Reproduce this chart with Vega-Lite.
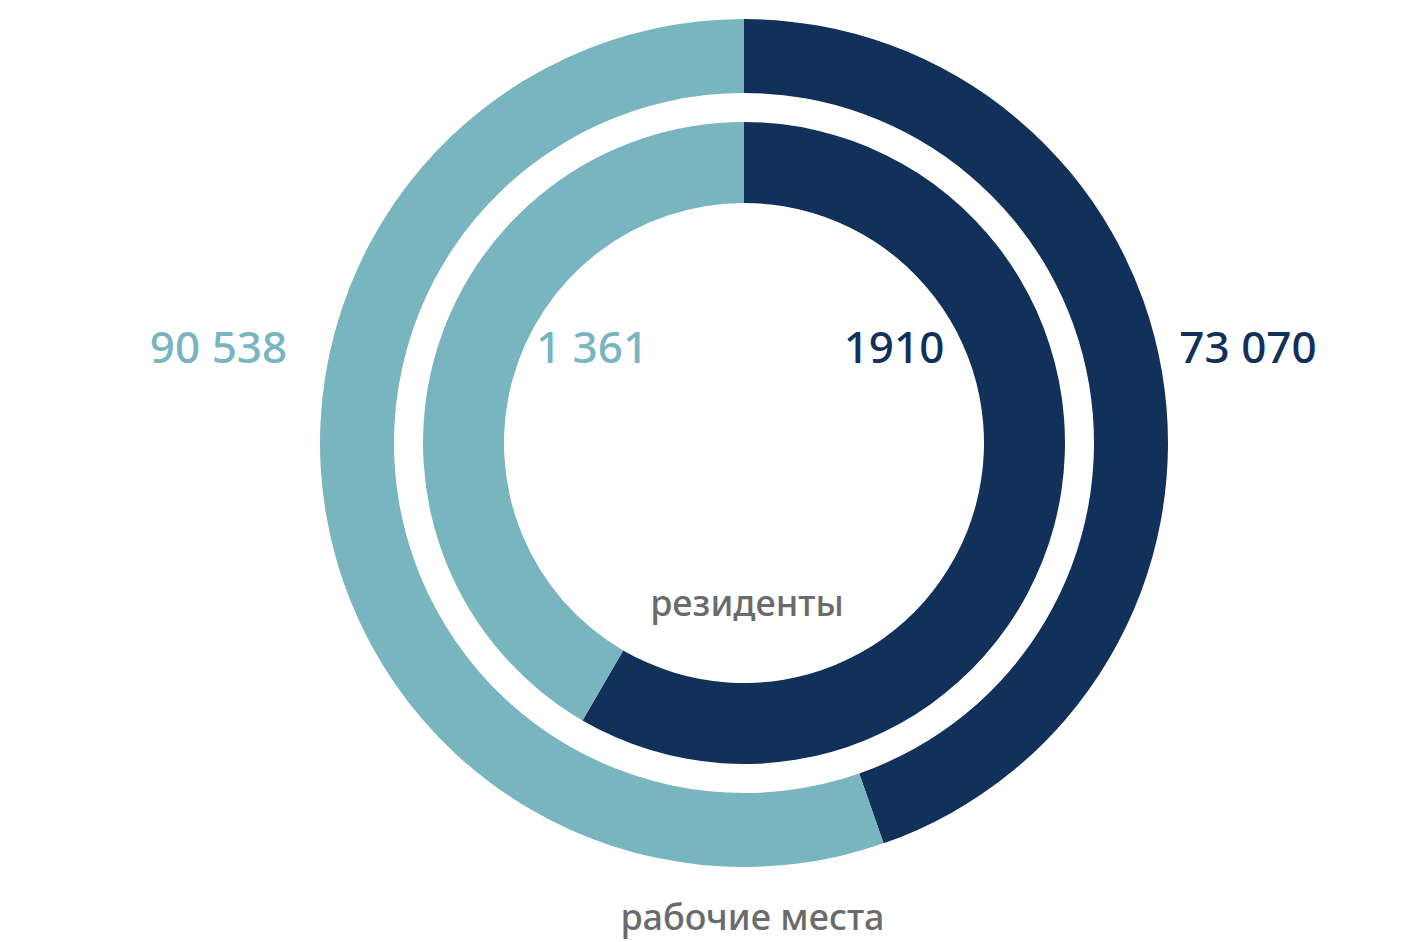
{
  "$schema": "https://vega.github.io/schema/vega-lite/v6.json",
  "width": 1340,
  "height": 886,
  "autosize": "none",
  "padding": {"left": 74, "top": 0, "right": 0, "bottom": 56},
  "background": "white",
  "config": {"view": {"stroke": null}},
  "datasets": {
    "rings": [
      {"ring": "рабочие места", "group": "A", "value": 73070, "label": "73 070", "lx": 1.1887, "ly": 0.1887},
      {"ring": "рабочие места", "group": "B", "value": 90538, "label": "90 538", "lx": -1.2394, "ly": 0.1887},
      {"ring": "резиденты", "group": "A", "value": 1910, "label": "1910", "lx": 0.3538, "ly": 0.1887},
      {"ring": "резиденты", "group": "B", "value": 1361, "label": "1 361", "lx": -0.3585, "ly": 0.1887}
    ],
    "titles": [
      {"text": "резиденты", "tx": 0.007, "ty": -0.408},
      {"text": "рабочие места", "tx": 0.02, "ty": -1.1486}
    ]
  },
  "resolve": {"scale": {"theta": "independent"}},
  "layer": [
    {
      "data": {"name": "rings"},
      "transform": [{"filter": "datum.ring === 'рабочие места'"}],
      "mark": {"type": "arc", "radius": 424, "radius2": 350},
      "encoding": {
        "theta": {"field": "value", "type": "quantitative", "stack": true},
        "order": {"field": "group", "sort": "ascending"},
        "color": {"field": "group", "type": "nominal", "scale": {"domain": ["A", "B"], "range": ["#11305a", "#78b5bf"]}, "legend": null}
      }
    },
    {
      "data": {"name": "rings"},
      "transform": [{"filter": "datum.ring === 'резиденты'"}],
      "mark": {"type": "arc", "radius": 321, "radius2": 240},
      "encoding": {
        "theta": {"field": "value", "type": "quantitative", "stack": true},
        "order": {"field": "group", "sort": "ascending"},
        "color": {"field": "group", "type": "nominal", "scale": {"domain": ["A", "B"], "range": ["#11305a", "#78b5bf"]}, "legend": null}
      }
    },
    {
      "data": {"name": "rings"},
      "mark": {"type": "text", "font": "Noto Sans", "fontSize": 44, "fontWeight": 500, "baseline": "alphabetic", "align": "center"},
      "encoding": {
        "x": {"field": "lx", "type": "quantitative", "scale": {"domain": [-1.5802, 1.5802]}, "axis": null},
        "y": {"field": "ly", "type": "quantitative", "scale": {"domain": [-1.0448, 1.0448]}, "axis": null},
        "text": {"field": "label"},
        "color": {"field": "group", "type": "nominal", "scale": {"domain": ["A", "B"], "range": ["#11305a", "#78b5bf"]}, "legend": null}
      }
    },
    {
      "data": {"name": "titles"},
      "mark": {"type": "text", "font": "Noto Sans", "fontSize": 36, "fontWeight": 500, "baseline": "alphabetic", "align": "center", "color": "#6b6b6b"},
      "encoding": {
        "x": {"field": "tx", "type": "quantitative", "scale": {"domain": [-1.5802, 1.5802]}, "axis": null},
        "y": {"field": "ty", "type": "quantitative", "scale": {"domain": [-1.0448, 1.0448]}, "axis": null},
        "text": {"field": "text"}
      }
    }
  ]
}
